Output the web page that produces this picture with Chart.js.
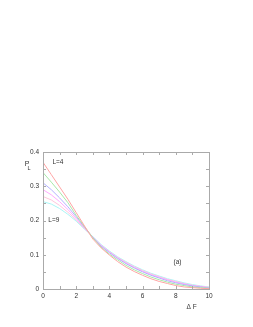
<!DOCTYPE html>
<html>
<head>
<meta charset="utf-8">
<script src="https://cdn.jsdelivr.net/npm/chart.js@4.4.1/dist/chart.umd.min.js"></script>
<style>
  html, body { margin: 0; padding: 0; background: #fff; }
  #wrap { width: 253px; height: 327px; }
</style>
</head>
<body>
<div id="wrap"><canvas id="chart"></canvas></div>
<script>
// Delta F values (bin centres)
var deltaF = [0, 0.5, 1, 1.5, 2, 2.5, 3, 3.5, 4, 4.5, 5, 5.5, 6, 6.5, 7, 7.5, 8, 8.5, 9, 9.5, 10];

// P_L for each system size
var pL4 = [0.370, 0.334, 0.298, 0.262, 0.223, 0.184, 0.146, 0.120, 0.099, 0.080, 0.064, 0.051, 0.040, 0.030, 0.022, 0.016, 0.010, 0.006, 0.004, 0.002, 0.001];
var pL5 = [0.340, 0.312, 0.283, 0.252, 0.215, 0.182, 0.150, 0.122, 0.102, 0.085, 0.069, 0.056, 0.045, 0.035, 0.027, 0.020, 0.014, 0.010, 0.006, 0.004, 0.002];
var pL6 = [0.310, 0.290, 0.266, 0.240, 0.211, 0.180, 0.151, 0.125, 0.106, 0.089, 0.074, 0.061, 0.050, 0.040, 0.032, 0.024, 0.018, 0.013, 0.009, 0.006, 0.003];
var pL7 = [0.290, 0.275, 0.255, 0.232, 0.206, 0.178, 0.152, 0.127, 0.108, 0.091, 0.076, 0.063, 0.052, 0.042, 0.034, 0.027, 0.020, 0.015, 0.010, 0.007, 0.004];
var pL8 = [0.270, 0.260, 0.244, 0.224, 0.202, 0.176, 0.152, 0.128, 0.109, 0.092, 0.078, 0.065, 0.054, 0.044, 0.036, 0.028, 0.022, 0.016, 0.011, 0.008, 0.005];
var pL9 = [0.255, 0.248, 0.235, 0.218, 0.198, 0.175, 0.153, 0.130, 0.111, 0.094, 0.080, 0.067, 0.056, 0.046, 0.038, 0.030, 0.024, 0.018, 0.013, 0.009, 0.006];

var xTicks = [0, 2, 4, 6, 8, 10];
var yTicks = [0, 0.1, 0.2, 0.3, 0.4];

var series = [
  { label: "L=4", data: pL4, color: "#ffa4a4" },
  { label: "L=5", data: pL5, color: "#a8e8a8" },
  { label: "L=6", data: pL6, color: "#b2b2ff" },
  { label: "L=7", data: pL7, color: "#ffaaff" },
  { label: "L=8", data: pL8, color: "#ffc6dc" },
  { label: "L=9", data: pL9, color: "#aaf6f6" }
];

var fontFam = "'Liberation Sans', Arial, sans-serif";

function toPoints(arr) {
  var pts = [];
  for (var i = 0; i < arr.length; i++) pts.push({ x: deltaF[i], y: arr[i] });
  return pts;
}

// box, inward ticks and the free text labels
var decor = {
  id: "decor",
  afterDatasetsDraw: function (chart) {
    var ctx = chart.ctx, a = chart.chartArea;
    var xs = chart.scales.x, ys = chart.scales.y;
    ctx.save();
    ctx.strokeStyle = "#aaaaaa";
    ctx.lineWidth = 1;
    ctx.strokeRect(a.left + 0.5, a.top + 0.5, a.right - a.left, a.bottom - a.top);
    ctx.beginPath();
    for (var v = 0; v <= 10; v++) {
      var px = Math.round(xs.getPixelForValue(v)) + 0.5;
      ctx.moveTo(px, a.bottom); ctx.lineTo(px, a.bottom - 3);
      ctx.moveTo(px, a.top); ctx.lineTo(px, a.top + 3);
    }
    for (var k = 0; k <= 8; k++) {
      var py = Math.round(ys.getPixelForValue(k * 0.05)) + 0.5;
      ctx.moveTo(a.left, py); ctx.lineTo(a.left + 3, py);
      ctx.moveTo(a.right, py); ctx.lineTo(a.right - 3, py);
    }
    ctx.stroke();

    ctx.fillStyle = "#333";
    ctx.textAlign = "center";
    ctx.textBaseline = "middle";
    ctx.font = "6.5px " + fontFam;
    ctx.fillText("L=4", xs.getPixelForValue(0.9), ys.getPixelForValue(0.37));
    ctx.fillText("L=9", xs.getPixelForValue(0.65), ys.getPixelForValue(0.2));
    ctx.fillText("(a)", xs.getPixelForValue(8.1), ys.getPixelForValue(0.078));
    ctx.fillText("\u0394 F", xs.getPixelForValue(8.95), a.bottom + 18);
    ctx.font = "7px " + fontFam;
    ctx.fillText("P", a.left - 16, ys.getPixelForValue(0.365));
    ctx.font = "5.5px " + fontFam;
    ctx.fillText("L", a.left - 14, ys.getPixelForValue(0.352));
    ctx.restore();
  }
};

new Chart(document.getElementById("chart"), {
  type: "line",
  data: {
    datasets: series.map(function (s) {
      return {
        label: s.label,
        data: toPoints(s.data),
        borderColor: s.color,
        borderWidth: 1,
        pointRadius: 0,
        tension: 0,
        fill: false
      };
    })
  },
  options: {
    responsive: true,
    maintainAspectRatio: false,
    animation: false,
    layout: { padding: { left: 0, top: 152, right: 44, bottom: 0 } },
    plugins: { legend: { display: false }, tooltip: { enabled: false } },
    scales: {
      x: {
        type: "linear",
        min: 0, max: 10,
        afterBuildTicks: function (sc) { sc.ticks = xTicks.map(function (v) { return { value: v }; }); },
        afterFit: function (sc) { sc.height = 38; },
        grid: { display: false, drawTicks: false },
        border: { display: false },
        ticks: { padding: 3, color: "#333", font: { family: fontFam, size: 6.5 }, maxRotation: 0 }
      },
      y: {
        type: "linear",
        min: 0, max: 0.4,
        afterBuildTicks: function (sc) { sc.ticks = yTicks.map(function (v) { return { value: v }; }); },
        afterFit: function (sc) { sc.width = 43; },
        grid: { display: false, drawTicks: false },
        border: { display: false },
        ticks: {
          padding: 4, color: "#333", font: { family: fontFam, size: 6.5 },
          callback: function (v) { return String(Math.round(v * 10) / 10); }
        }
      }
    }
  },
  plugins: [decor]
});
</script>
</body>
</html>
